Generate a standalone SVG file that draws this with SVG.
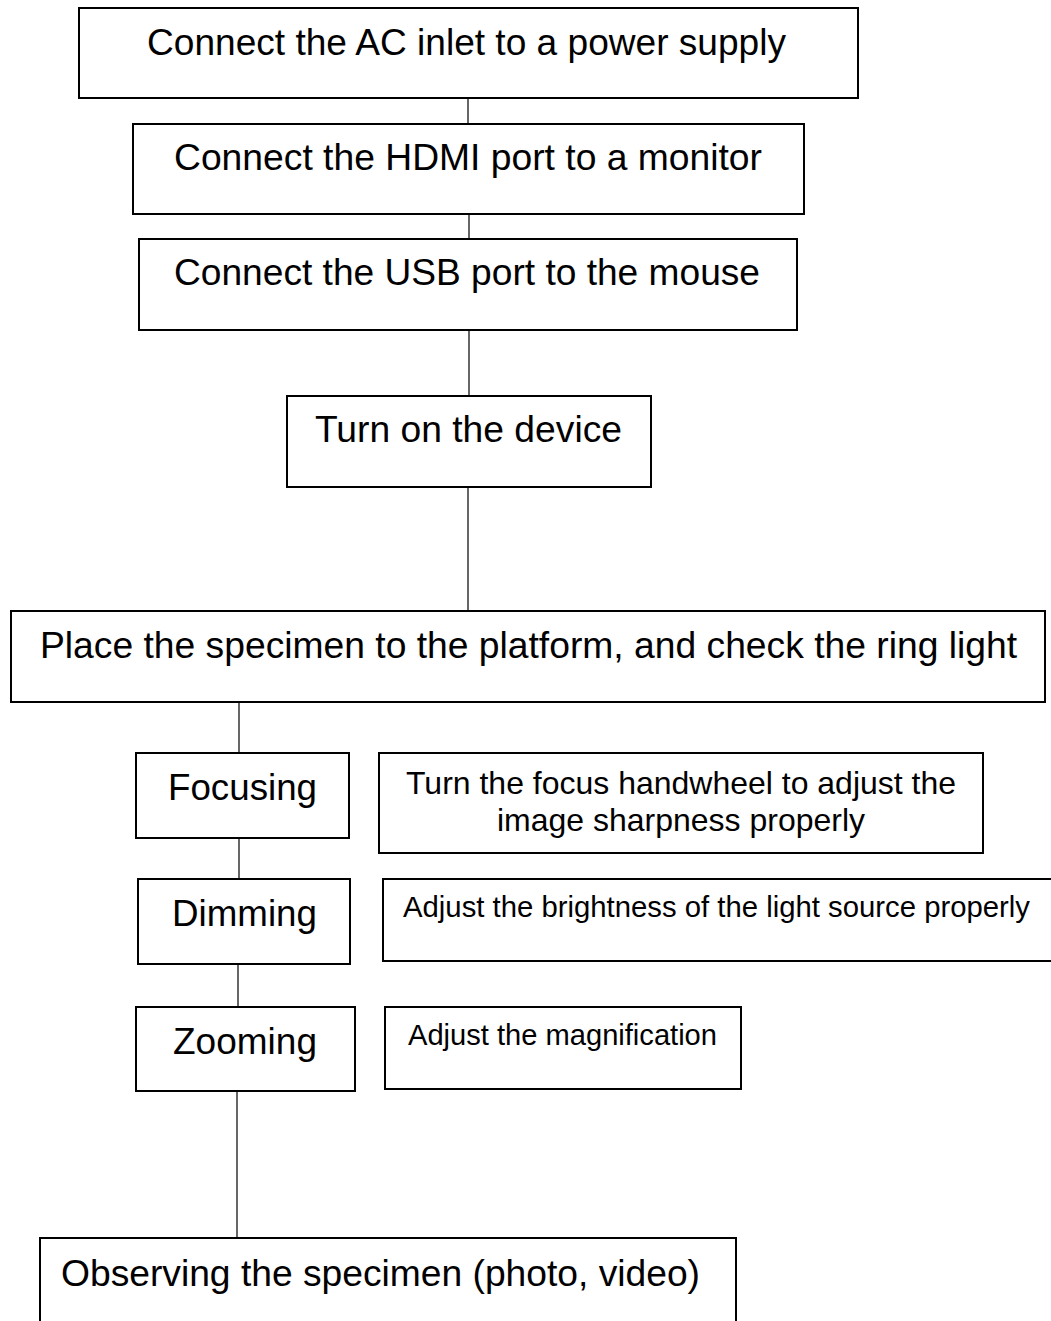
<svg xmlns="http://www.w3.org/2000/svg" width="1051" height="1321" viewBox="0 0 1051 1321">
<style>
.box{fill:#fff;stroke:#000;stroke-width:2}
.conn{stroke:#000;stroke-width:1.2;fill:none}
.t{font-family:"Liberation Sans",Arial,sans-serif;font-size:37px;fill:#000}
.m{font-family:"Liberation Sans",Arial,sans-serif;font-size:32px;fill:#000}
.s{font-family:"Liberation Sans",Arial,sans-serif;font-size:29px;fill:#000}
</style>
<rect width="1051" height="1321" fill="#fff"/>
<g id="connectors">
<line class="conn" x1="468" y1="98" x2="468" y2="124"/>
<line class="conn" x1="469" y1="214" x2="469" y2="239"/>
<line class="conn" x1="469" y1="330" x2="469" y2="396"/>
<line class="conn" x1="468" y1="487" x2="468" y2="611"/>
<line class="conn" x1="239" y1="702" x2="239" y2="753"/>
<line class="conn" x1="239" y1="838" x2="239" y2="879"/>
<line class="conn" x1="238" y1="964" x2="238" y2="1007"/>
<line class="conn" x1="237" y1="1091" x2="237" y2="1238"/>
</g>
<g id="n1"><rect class="box" x="79" y="8" width="779" height="90"/><text class="t" x="147" y="55" textLength="639" lengthAdjust="spacingAndGlyphs">Connect the AC inlet to a power supply</text></g>
<g id="n2"><rect class="box" x="133" y="124" width="671" height="90"/><text class="t" x="174" y="170" textLength="588" lengthAdjust="spacingAndGlyphs">Connect the HDMI port to a monitor</text></g>
<g id="n3"><rect class="box" x="139" y="239" width="658" height="91"/><text class="t" x="174" y="285" textLength="586" lengthAdjust="spacingAndGlyphs">Connect the USB port to the mouse</text></g>
<g id="n4"><rect class="box" x="287" y="396" width="364" height="91"/><text class="t" x="315" y="442" textLength="307" lengthAdjust="spacingAndGlyphs">Turn on the device</text></g>
<g id="n5"><rect class="box" x="11" y="611" width="1034" height="91"/><text class="t" x="40" y="658" textLength="977" lengthAdjust="spacingAndGlyphs">Place the specimen to the platform, and check the ring light</text></g>
<g id="n6"><rect class="box" x="136" y="753" width="213" height="85"/><text class="t" x="168" y="800" textLength="149" lengthAdjust="spacingAndGlyphs">Focusing</text></g>
<g id="n7"><rect class="box" x="379" y="753" width="604" height="100"/><text class="m" x="406" y="794" textLength="550" lengthAdjust="spacingAndGlyphs">Turn the focus handwheel to adjust the</text><text class="m" x="497" y="831" textLength="368" lengthAdjust="spacingAndGlyphs">image sharpness properly</text></g>
<g id="n8"><rect class="box" x="138" y="879" width="212" height="85"/><text class="t" x="172" y="926" textLength="145" lengthAdjust="spacingAndGlyphs">Dimming</text></g>
<g id="n9"><rect class="box" x="383" y="879" width="680" height="82"/><text class="s" x="403" y="917" textLength="627" lengthAdjust="spacingAndGlyphs">Adjust the brightness of the light source properly</text></g>
<g id="n10"><rect class="box" x="136" y="1007" width="219" height="84"/><text class="t" x="173" y="1054" textLength="144" lengthAdjust="spacingAndGlyphs">Zooming</text></g>
<g id="n11"><rect class="box" x="385" y="1007" width="356" height="82"/><text class="s" x="408" y="1045" textLength="309" lengthAdjust="spacingAndGlyphs">Adjust the magnification</text></g>
<g id="n12"><rect class="box" x="40" y="1238" width="696" height="100"/><text class="t" x="61" y="1286" textLength="639" lengthAdjust="spacingAndGlyphs">Observing the specimen (photo, video)</text></g>
</svg>
